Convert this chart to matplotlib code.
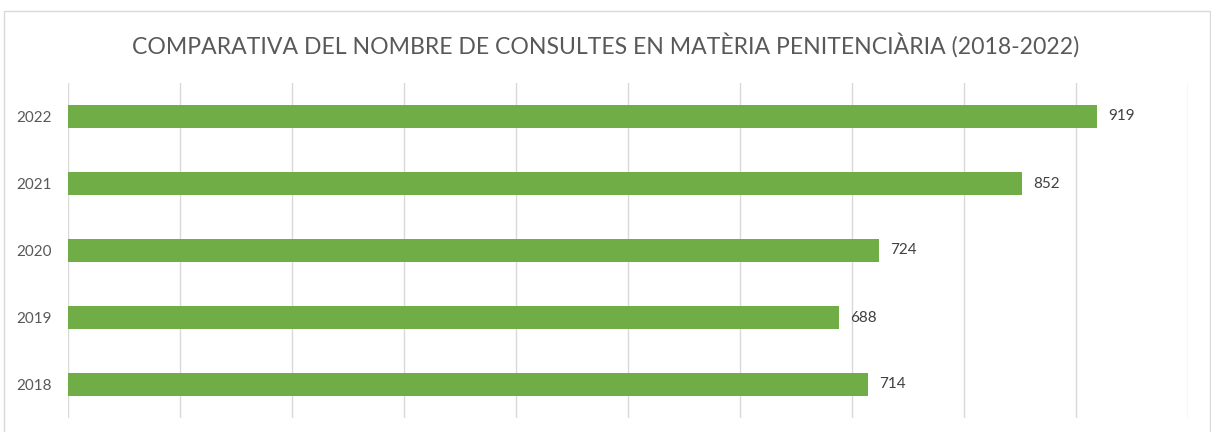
import matplotlib.pyplot as plt
from matplotlib.patches import Rectangle

# Dades
anys = ['2018', '2019', '2020', '2021', '2022']
consultes = [714, 688, 724, 852, 919]

titol = 'COMPARATIVA DEL NOMBRE DE CONSULTES EN MATÈRIA PENITENCIÀRIA (2018-2022)'

plt.rcParams['font.family'] = ['Lato', 'DejaVu Sans']

fig = plt.figure(figsize=(12.11, 4.32), dpi=100)
ax = fig.add_axes([68 / 1211, 1 - 418 / 432, 1120 / 1211, 335 / 432])

# marc del gràfic
fig.patches.append(Rectangle((4 / 1211, -0.1), 1206 / 1211, 1.1 - 11 / 432,
                             transform=fig.transFigure, fill=False,
                             edgecolor='#D9D9D9', linewidth=1))

ax.barh(anys, consultes, height=0.34, color='#70AD47', zorder=3)
for i, v in enumerate(consultes):
    ax.text(v + 10, i, str(v), va='center', ha='left', fontsize=11, color='#404040')

ax.set_xlim(0, 1000)
ax.set_ylim(-0.5, 4.5)
ax.set_xticks(range(0, 1001, 100))
ax.xaxis.grid(True, color='#D9D9D9', linewidth=1, zorder=0)
ax.tick_params(axis='x', length=0, labelbottom=False)
ax.tick_params(axis='y', length=0, labelsize=11, labelcolor='#595959', pad=12)
for s in ax.spines.values():
    s.set_visible(False)

fig.text(0.5, 1 - 45 / 432, titol, ha='center', va='center', fontsize=16.6, color='#595959')

fig.savefig('out.png', dpi=100)
